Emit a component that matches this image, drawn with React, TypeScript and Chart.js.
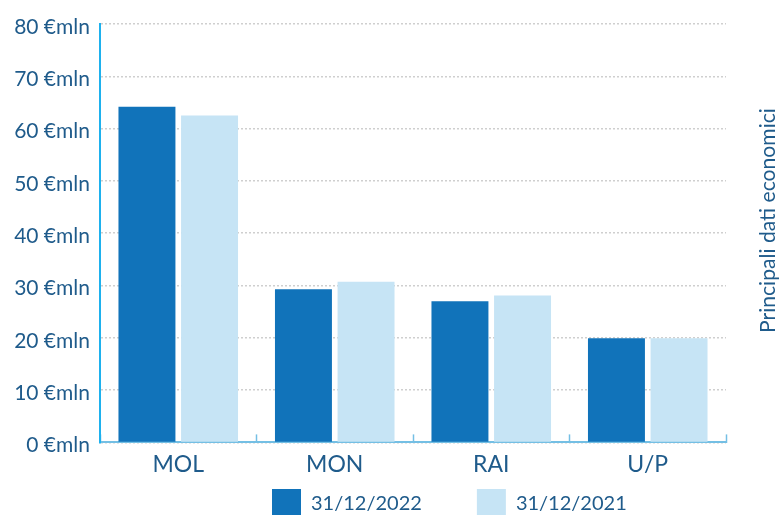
import React, { useEffect, useRef } from 'react';
import { Chart, registerables } from 'chart.js';

Chart.register(...registerables);

const categories = ['MOL', 'MON', 'RAI', 'U/P'];
const series2022 = [64.2, 29.3, 27.0, 19.9];
const series2021 = [62.5, 30.7, 28.1, 19.9];
const seriesLabels = ['31/12/2022', '31/12/2021'];
const yMin = 0;
const yMax = 80;
const yStep = 10;
const unitSuffix = ' €mln';
const sideTitle = 'Principali dati economici';

const FONT = 'Lato';
const TEXT = '#1f5b8b';
const DARK = '#1173ba';
const LIGHT = '#c6e4f5';
const Y_AXIS = '#1eb1ee';
const X_AXIS = '#74bfe4';
const GRID = '#cfcfcf';

const sideTitlePlugin = {
  id: 'sideTitle',
  afterDraw(chart: any) {
    const { ctx } = chart;
    ctx.save();
    // fit title so it spans the same length as the reference (≈225px)
    ctx.font = `19px ${FONT}`;
    const w = ctx.measureText(sideTitle).width || 225;
    const size = Math.max(16, Math.min(22, (19 * 225) / w));
    ctx.font = `${size}px ${FONT}`;
    ctx.translate(768, 333);
    ctx.rotate(-Math.PI / 2);
    ctx.fillStyle = TEXT;
    ctx.textAlign = 'left';
    ctx.textBaseline = 'middle';
    ctx.fillText(sideTitle, 0, 0);
    ctx.restore();
  },
};

const legendPlacePlugin = {
  id: 'legendPlace',
  afterLayout(chart: any) {
    const lg = chart.legend;
    if (!lg || !lg.lineWidths) return;
    const pad = lg.options.labels.padding;
    const lw = lg.lineWidths[0];
    const curX = (lg.left + pad + lg.right - lw) / 2;
    const dx = 272 - curX;
    const dy = 489 - (lg.top + pad);
    lg.left += dx;
    lg.right += dx;
    lg.top += dy;
    lg.bottom += dy;
  },
};

export default function App() {
  const ref = useRef<HTMLCanvasElement | null>(null);

  useEffect(() => {
    if (!ref.current) return;
    const chart = new Chart(ref.current, {
      type: 'bar',
      data: {
        labels: categories,
        datasets: [
          {
            label: seriesLabels[0],
            data: series2022,
            backgroundColor: DARK,
            borderWidth: 0,
            categoryPercentage: 0.8,
            barPercentage: 0.91,
          },
          {
            label: seriesLabels[1],
            data: series2021,
            backgroundColor: LIGHT,
            borderWidth: 0,
            categoryPercentage: 0.8,
            barPercentage: 0.91,
          },
        ],
      },
      options: {
        responsive: false,
        animation: false,
        layout: { padding: { left: 0, right: 56, top: 24, bottom: 0 } },
        plugins: {
          tooltip: { enabled: false },
          title: { display: false },
          legend: {
            position: 'bottom',
            labels: {
              boxWidth: 29,
              boxHeight: 29,
              padding: 55,
              color: TEXT,
              font: { family: FONT, size: 20 },
            },
          },
        },
        scales: {
          x: {
            grid: {
              display: true,
              drawOnChartArea: false,
              drawTicks: true,
              tickLength: -8,
              tickColor: X_AXIS,
              tickWidth: 1.5,
            },
            border: { display: true, color: X_AXIS, width: 2 },
            ticks: {
              color: TEXT,
              padding: 16,
              font: { family: FONT, size: 23 },
            },
          },
          y: {
            min: yMin,
            max: yMax,
            afterFit(scale: any) {
              scale.width = 100;
            },
            grid: {
              color: GRID,
              lineWidth: 1.5,
              drawTicks: false,
            },
            border: { display: true, color: Y_AXIS, width: 2, dash: [2, 2] },
            ticks: {
              stepSize: yStep,
              color: TEXT,
              padding: 10,
              labelOffset: 3,
              font: { family: FONT, size: 21 },
              callback: (v: any) => `${v}${unitSuffix}`,
            },
          },
        },
      },
      plugins: [sideTitlePlugin, legendPlacePlugin],
    } as any);
    return () => chart.destroy();
  }, []);

  return (
    <div
      style={{
        position: 'absolute',
        left: 0,
        top: 0,
        width: 782,
        height: 515,
        overflow: 'hidden',
        background: '#fff',
      }}
    >
      <canvas ref={ref} width={782} height={588} style={{ display: 'block' }} />
    </div>
  );
}
